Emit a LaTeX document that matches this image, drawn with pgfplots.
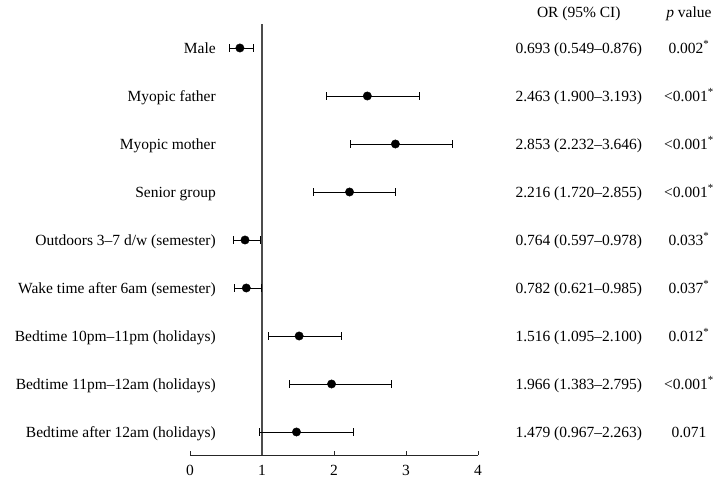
\documentclass[border=0pt]{standalone}
\usepackage{pgfplots}
\pgfplotsset{compat=1.18}
\usepackage{pgfplotstable}
\usepackage{fontspec}
\setmainfont{Liberation Serif}

% odds ratios with 95% CI, one row per factor (row 9 = top)
\pgfplotstableread[col sep=comma]{
row,or,lo,hi,label,ortext,ptext
9,0.693,0.549,0.876,Male,0.693 (0.549–0.876),0.002\textsuperscript{*}
8,2.463,1.900,3.193,Myopic father,2.463 (1.900–3.193),<0.001\textsuperscript{*}
7,2.853,2.232,3.646,Myopic mother,2.853 (2.232–3.646),<0.001\textsuperscript{*}
6,2.216,1.720,2.855,Senior group,2.216 (1.720–2.855),<0.001\textsuperscript{*}
5,0.764,0.597,0.978,Outdoors 3–7 d/w (semester),0.764 (0.597–0.978),0.033\textsuperscript{*}
4,0.782,0.621,0.985,Wake time after 6am (semester),0.782 (0.621–0.985),0.037\textsuperscript{*}
3,1.516,1.095,2.100,Bedtime 10pm–11pm (holidays),1.516 (1.095–2.100),0.012\textsuperscript{*}
2,1.966,1.383,2.795,Bedtime 11pm–12am (holidays),1.966 (1.383–2.795),<0.001\textsuperscript{*}
1,1.479,0.967,2.263,Bedtime after 12am (holidays),1.479 (0.967–2.263),0.071
}\forest

\begin{document}
\fontsize{15.5bp}{18bp}\selectfont
\begin{tikzpicture}
\begin{axis}[
  x=1in, y=48bp,
  xmin=0, xmax=4,
  ymin=0.52, ymax=9.5,
  axis x line*=bottom,
  axis y line=none,
  x axis line style={-, line width=0.8pt, black!85},
  xtick={0,1,2,3,4},
  ytick=\empty,
  tick align=inside,
  major tick length=4bp,
  every tick/.style={line width=0.8pt, black!85},
  xticklabel style={yshift=-5bp},
  /pgf/number format/assume math mode=true,
  clip=false,
]
\coordinate (bl) at (axis cs:-2.639,0.0208);
\coordinate (tr) at (axis cs:7.292,10);

% reference line at OR = 1
\addplot[black!70, line width=1.3pt] coordinates {(1,0.52) (1,9.5)};

\addplot[only marks, mark=*, mark size=4.2bp, black,
  error bars/.cd, x dir=both, x explicit, error mark=|,
  error bar style={line width=0.8pt, black},
  error mark options={mark size=3.6bp, line width=0.8pt}]
  table[x=or, y=row,
    x error plus expr=\thisrow{hi}-\thisrow{or},
    x error minus expr=\thisrow{or}-\thisrow{lo}] {\forest};

% row labels, OR text, p values
\addplot[draw=none, mark=none, nodes near coords, point meta=explicit symbolic,
  every node near coord/.append style={anchor=base east, inner sep=0pt, yshift=-5.2bp}]
  table[x expr=0.361, y=row, meta=label] {\forest};
\addplot[draw=none, mark=none, nodes near coords, point meta=explicit symbolic,
  every node near coord/.append style={anchor=base, inner sep=0pt, yshift=-5.2bp}]
  table[x expr=5.40, y=row, meta=ortext] {\forest};
\addplot[draw=none, mark=none, nodes near coords, point meta=explicit symbolic,
  every node near coord/.append style={anchor=base, inner sep=0pt, yshift=-5.2bp}]
  table[x expr=6.93, y=row, meta=ptext] {\forest};

\node[anchor=base, inner sep=0pt, yshift=-5.2bp] at (axis cs:5.40,9.75) {OR (95\% CI)};
\node[anchor=base, inner sep=0pt, yshift=-5.2bp] at (axis cs:6.93,9.75) {\textit{p} value};
\end{axis}
\pgfresetboundingbox
\path[use as bounding box] (bl) rectangle (tr);
\end{tikzpicture}
\end{document}
